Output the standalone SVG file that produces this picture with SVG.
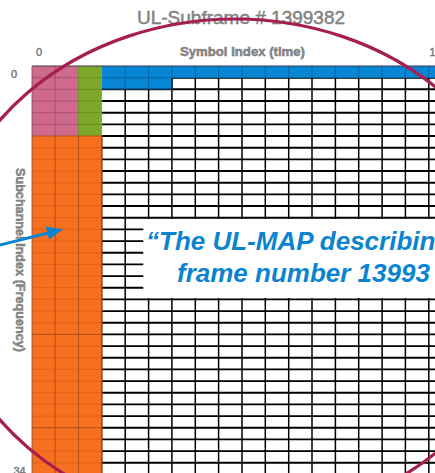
<svg xmlns="http://www.w3.org/2000/svg" width="435" height="473" viewBox="0 0 435 473">
  <style>
    .lbl { font-family: "Liberation Sans", Arial, sans-serif; fill: #8c8c8c; stroke: #727272; stroke-width: 0.45; }
    .quote { font-family: "Liberation Sans", Arial, sans-serif; font-weight: bold; font-style: italic; font-size: 26px; fill: #0a84d0; }
    .gridk { stroke: #000; fill: none; }
  </style>
  <defs>
    <marker id="arrowHead" markerWidth="16" markerHeight="14" refX="14" refY="7" orient="auto" markerUnits="userSpaceOnUse">
      <path d="M0,0 L15,7 L0,14 Z" fill="#0a84d0"/>
    </marker>
  </defs>
  <rect width="435" height="473" fill="#fff"/>

  <!-- axis titles -->
  <g id="title">
    <text class="lbl" x="241" y="24" font-size="19" text-anchor="middle">UL-Subframe # 1399382</text>
  </g>
  <g id="axis-labels">
    <text class="lbl" x="242.5" y="56" font-size="12" font-weight="bold" text-anchor="middle" textLength="125" lengthAdjust="spacingAndGlyphs">Symbol Index (time)</text>
    <text class="lbl" x="39" y="56" font-size="11" text-anchor="middle">0</text>
    <text class="lbl" x="429.5" y="56" font-size="11">1</text>
    <text class="lbl" x="14" y="78" font-size="11" text-anchor="middle">0</text>
    <text class="lbl" x="19.5" y="475" font-size="11" text-anchor="middle">34</text>
    <text class="lbl" transform="translate(15.5,260) rotate(90)" font-size="12" font-weight="bold" text-anchor="middle" textLength="184" lengthAdjust="spacingAndGlyphs">Subchannel Index (Frequency)</text>
  </g>

  <!-- white data grid (symbols 3.., subchannels 1..34) -->
  <g id="data-grid">
    <path class="gridk" stroke-width="1.9" d="M171.9,77.7H435 M101.9,89.3H435 M101.9,101H435 M101.9,112.7H435 M101.9,124.4H435 M101.9,136H435 M101.9,147.7H435 M101.9,159.4H435 M101.9,171H435 M101.9,182.7H435 M101.9,194.4H435 M101.9,206H435 M101.9,217.7H435 M101.9,229.4H435 M101.9,241.1H435 M101.9,252.7H435 M101.9,264.4H435 M101.9,276.1H435 M101.9,287.7H435 M101.9,299.4H435 M101.9,311.1H435 M101.9,322.7H435 M101.9,334.4H435 M101.9,346.1H435 M101.9,357.8H435 M101.9,369.4H435 M101.9,381.1H435 M101.9,392.8H435 M101.9,404.4H435 M101.9,416.1H435 M101.9,427.8H435 M101.9,439.4H435 M101.9,451.1H435 M101.9,462.8H435"/>
    <path class="gridk" stroke-width="1.5" d="M125.2,89.3V473 M148.6,89.3V473 M171.9,77.7V473 M195.3,77.7V473 M218.6,77.7V473 M242,77.7V473 M265.3,77.7V473 M288.7,77.7V473 M312,77.7V473 M335.4,77.7V473 M358.7,77.7V473 M382.1,77.7V473 M405.4,77.7V473 M428.8,77.7V473"/>
  </g>

  <!-- control region: pink / green / orange / blue allocations -->
  <g id="pink-block">
    <rect x="32" y="66" width="46.5" height="70" fill="#d06a8b"/>
    <path d="M55.2,66V136 M32,77.7H78.5 M32,89.3H78.5 M32,101H78.5 M32,112.7H78.5 M32,124.4H78.5" stroke="#a34b69" stroke-width="0.8" fill="none"/>
  </g>
  <g id="green-block">
    <rect x="78.5" y="66" width="23.4" height="70" fill="#7ea82b"/>
    <path d="M78.5,77.7H101.9 M78.5,89.3H101.9 M78.5,101H101.9 M78.5,112.7H101.9 M78.5,124.4H101.9 M78.5,66V136" stroke="#5e8a1e" stroke-width="0.8" fill="none"/>
  </g>
  <g id="orange-block">
    <rect x="32" y="136" width="69.9" height="337" fill="#f7701f"/>
    <path d="M32,147.7H101.9 M32,159.4H101.9 M32,171H101.9 M32,182.7H101.9 M32,194.4H101.9 M32,206H101.9 M32,217.7H101.9 M32,229.4H101.9 M32,241.1H101.9 M32,252.7H101.9 M32,264.4H101.9 M32,276.1H101.9 M32,287.7H101.9 M32,299.4H101.9 M32,311.1H101.9 M32,322.7H101.9 M32,346.1H101.9 M32,357.8H101.9 M32,369.4H101.9 M32,381.1H101.9 M32,392.8H101.9 M32,404.4H101.9 M32,416.1H101.9 M32,439.4H101.9 M32,451.1H101.9 M32,462.8H101.9" stroke="#d55e1a" stroke-width="0.7" fill="none"/>
    <path d="M55.2,136V473 M78.5,136V473 M32,136H101.9 M32,334.4H101.9 M32,427.8H101.9" stroke="#b4501a" stroke-width="1" fill="none"/>
    <path d="M101.9,136V473" stroke="#8a3a10" stroke-width="1.4" fill="none"/>
  </g>
  <g id="blue-block">
    <path d="M101.9,66H435V77.7H171.9V89.3H101.9Z" fill="#0786d5"/>
    <path d="M125.2,66V89.3 M148.6,66V89.3 M171.9,66V77.7 M195.3,66V77.7 M218.6,66V77.7 M242,66V77.7 M265.3,66V77.7 M288.7,66V77.7 M312,66V77.7 M335.4,66V77.7 M358.7,66V77.7 M382.1,66V77.7 M405.4,66V77.7 M428.8,66V77.7 M101.9,77.7H171.9" stroke="#0b5d97" stroke-width="0.9" fill="none"/>
    <path d="M101.9,89.3H171.9 M171.9,77.7V89.3" stroke="#0a2e55" stroke-width="1.6" fill="none"/>
  </g>
  <path d="M32,66H435" stroke="#3f3550" stroke-width="1" fill="none"/>
  <path d="M32,66V473" stroke="#7a4a55" stroke-width="0.8" fill="none"/>

  <!-- callout box -->
  <g id="callout">
    <rect x="143.3" y="219" width="300" height="79" fill="#fff"/>
    <text class="quote" x="146" y="250">“The UL-MAP describing</text>
    <text class="quote" x="177" y="282">frame number 13993</text>
  </g>

  <g id="connectors">
    <line x1="-2" y1="245.5" x2="61" y2="229.8" stroke="#0a84d0" stroke-width="3" marker-end="url(#arrowHead)"/>
  </g>

  <!-- highlight ring -->
  <g id="ring">
    <ellipse cx="235" cy="270" rx="293" ry="251" fill="none" stroke="#a51f4f" stroke-width="3.2"/>
  </g>
</svg>
